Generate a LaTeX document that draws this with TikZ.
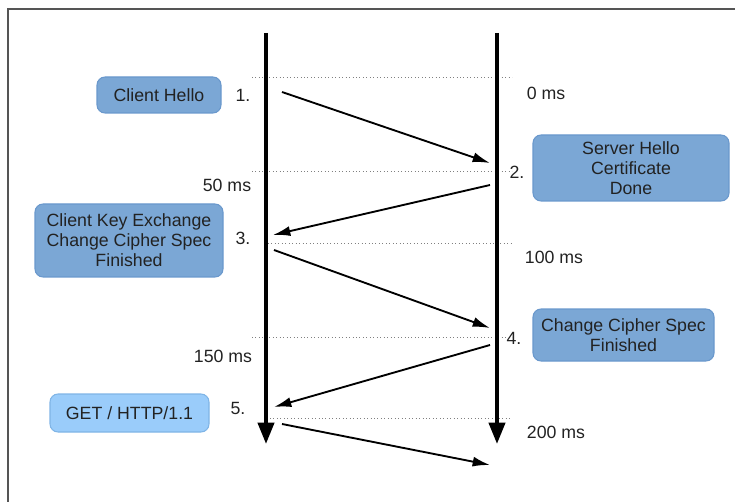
\documentclass[tikz,border=0pt]{standalone}
\usepackage{fontspec}
\setmainfont{Liberation Sans}
\usetikzlibrary{arrows.meta}
\definecolor{boxdark}{HTML}{7BA7D5}
\definecolor{boxdarkline}{HTML}{6A98CC}
\definecolor{boxlight}{HTML}{9ACCFA}
\definecolor{boxlightline}{HTML}{7FB4E6}
\definecolor{txt}{HTML}{222222}
\definecolor{frame}{HTML}{555555}
\tikzset{
  lbl/.style={font=\fontsize{13.3}{15}\selectfont, text=txt, inner sep=0pt},
  msgbox/.style={lbl, rounded corners=6pt, fill=boxdark, draw=boxdarkline, line width=0.8pt, align=center},
  lightbox/.style={msgbox, fill=boxlight, draw=boxlightline},
  lifeline/.style={line width=3pt, -{Triangle[length=16pt,width=12pt]}},
  msg/.style={line width=1.4pt, -{Latex[length=13pt,width=7.5pt]}},
  tick/.style={gray, line width=0.6pt, dotted},
  framestyle/.style={frame, line width=1.5pt}
}
\begin{document}
\begin{tikzpicture}[x=0.75pt,y=-0.75pt]
\useasboundingbox (0,0) rectangle (735,502);
% frame
\coordinate (fTR) at (735,9);
\coordinate (fTL) at (8,9);
\coordinate (fBL) at (8,502);
\draw[framestyle] (fTR) -- (fTL) -- (fBL);

% lifelines
\coordinate (cTop) at (266,33);
\coordinate (cBot) at (266,444);
\coordinate (sTop) at (497,33);
\coordinate (sBot) at (497,444);

% dotted time lines
\coordinate (t0a) at (252,77);  \coordinate (t0b) at (512,77);
\coordinate (t1a) at (252,171); \coordinate (t1b) at (512,171);
\coordinate (t2a) at (268,243); \coordinate (t2b) at (512,243);
\coordinate (t3a) at (252,337); \coordinate (t3b) at (512,337);
\coordinate (t4a) at (270,418); \coordinate (t4b) at (512,418);
\draw[tick] (t0a) -- (t0b);
\draw[tick] (t1a) -- (t1b);
\draw[tick] (t2a) -- (t2b);
\draw[tick] (t3a) -- (t3b);
\draw[tick] (t4a) -- (t4b);

\draw[lifeline] (cTop) -- (cBot);
\draw[lifeline] (sTop) -- (sBot);

% message end points
\coordinate (m1a) at (282,92);  \coordinate (m1b) at (490,163);
\coordinate (m2a) at (490,185); \coordinate (m2b) at (273,235);
\coordinate (m3a) at (274,250); \coordinate (m3b) at (490,328);
\coordinate (m4a) at (490,345); \coordinate (m4b) at (274,407);
\coordinate (m5a) at (282,424); \coordinate (m5b) at (490,465);
\draw[msg] (m1a) -- (m1b);
\draw[msg] (m2a) -- (m2b);
\draw[msg] (m3a) -- (m3b);
\draw[msg] (m4a) -- (m4b);
\draw[msg] (m5a) -- (m5b);

% step numbers
\node[lbl] (n1) at (243,95) {1.};
\node[lbl] (n2) at (517,172) {2.};
\node[lbl] (n3) at (243,238) {3.};
\node[lbl] (n4) at (514,338) {4.};
\node[lbl] (n5) at (238,408) {5.};

% times
\node[lbl] (ms0) at (546,93) {0 ms};
\node[lbl] (ms50) at (227,185) {50 ms};
\node[lbl] (ms100) at (554,257) {100 ms};
\node[lbl] (ms150) at (223,356) {150 ms};
\node[lbl] (ms200) at (556,432) {200 ms};

% boxes
\node[msgbox, minimum width=124*0.75pt, minimum height=36*0.75pt] (bCH) at (159,95) {Client Hello};
\node[msgbox, minimum width=188*0.75pt, minimum height=73*0.75pt] (bCKE) at (129,240.5) {Client Key Exchange\\Change Cipher Spec\\Finished};
\node[msgbox, minimum width=196*0.75pt, minimum height=66*0.75pt] (bSH) at (631,168) {Server Hello\\Certificate\\Done};
\node[msgbox, minimum width=181*0.75pt, minimum height=52*0.75pt] (bCCS) at (623.5,335) {Change Cipher Spec\\Finished};
\node[lightbox, minimum width=159*0.75pt, minimum height=38*0.75pt] (bGET) at (129.5,413) {GET / HTTP/1.1};
\end{tikzpicture}
\end{document}
